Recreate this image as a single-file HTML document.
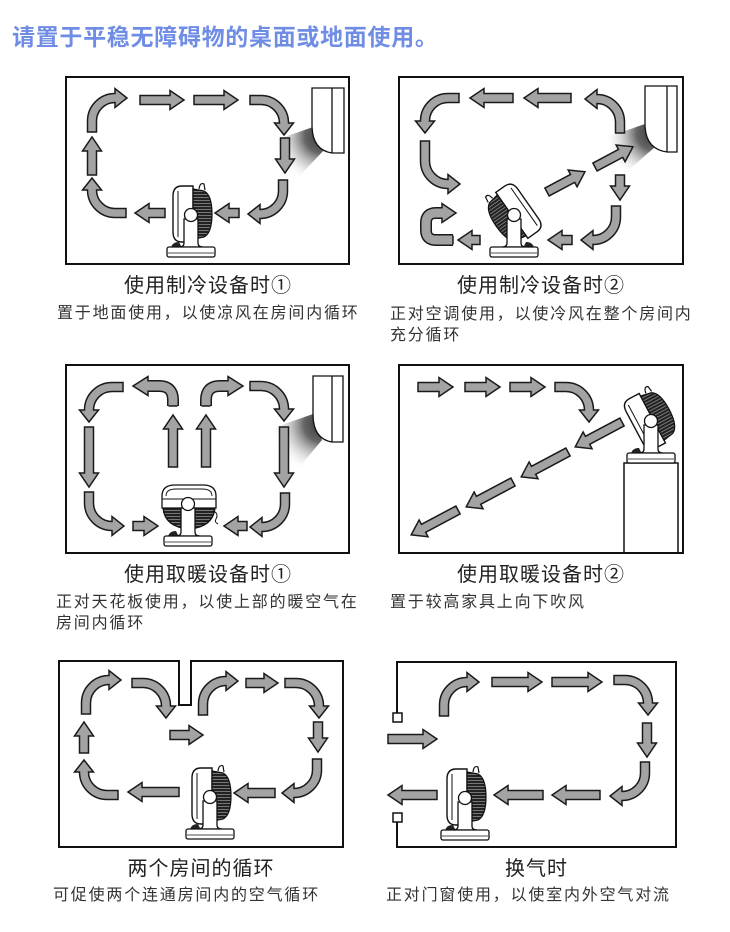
<!DOCTYPE html>
<html><head><meta charset="utf-8">
<style>
html,body{margin:0;padding:0;background:#fff;}
body{width:730px;height:932px;position:relative;overflow:hidden;font-family:"Liberation Sans","Noto Sans CJK SC",sans-serif;}
.t{position:absolute;font-weight:bold;font-size:23px;line-height:26px;letter-spacing:0.7px;color:#6f8de5;white-space:nowrap;}
.c{position:absolute;font-size:20px;line-height:24px;letter-spacing:1px;text-align:center;color:#222;white-space:nowrap;}
.s{position:absolute;font-size:16px;line-height:21px;letter-spacing:1.8px;color:#333;white-space:nowrap;}
svg{position:absolute;left:0;top:0;}
</style></head><body>
<svg width="730" height="932" viewBox="0 0 730 932">
<defs>
 <path id="ca" d="M0,-4.5 L11,-4.5 A27.5,27.5 0 0 1 38.5,23 L43.5,23 L34,35 L24.5,23 L29.5,23 A18.5,18.5 0 0 0 11,4.5 L0,4.5 Z"/>
 <path id="cal" d="M0,-4.5 L20,-4.5 A27.5,27.5 0 0 1 47.5,23 L52.5,23 L43,35 L33.5,23 L38.5,23 A18.5,18.5 0 0 0 20,4.5 L0,4.5 Z"/>
 <pattern id="grille" width="3" height="3" patternUnits="userSpaceOnUse"><rect width="3" height="3" fill="#222"/><rect width="3" height="1" fill="#777"/></pattern>
 <radialGradient id="g1" gradientUnits="userSpaceOnUse" cx="322" cy="136" r="50"><stop offset="0" stop-color="#333"/><stop offset="0.35" stop-color="#666"/><stop offset="1" stop-color="#fff" stop-opacity="0"/></radialGradient>
 <radialGradient id="g2" gradientUnits="userSpaceOnUse" cx="654" cy="133" r="50"><stop offset="0" stop-color="#333"/><stop offset="0.35" stop-color="#666"/><stop offset="1" stop-color="#fff" stop-opacity="0"/></radialGradient>
 <radialGradient id="g3" gradientUnits="userSpaceOnUse" cx="322" cy="424" r="52"><stop offset="0" stop-color="#333"/><stop offset="0.35" stop-color="#666"/><stop offset="1" stop-color="#fff" stop-opacity="0"/></radialGradient>
 <g id="fh">
  <path d="M2,-29 H-9 Q-18,-29 -18,-19 V17 Q-18,27 -9,27 H2 Z" fill="#fff" stroke="#111" stroke-width="1.4"/>
  <path d="M-13,-24 V22" fill="none" stroke="#111" stroke-width="1"/>
  <path d="M2,-26 L13,-24 Q21,-20 21,-1 Q21,18 13,22 L2,24 Z" fill="url(#grille)" stroke="#111" stroke-width="1.2"/>
  <path d="M8,-26 Q9,-33 13,-31 L14,-25" fill="none" stroke="#111" stroke-width="1.2"/>
 </g>
 <g id="fb">
  <path d="M-20,33 Q-19,27 -12,27 L-9,33 Z" fill="#222"/>
  <path d="M-7,4 V28 Q-7,32 -12,32 H12 Q7,32 7,28 V4 Z" fill="#fff" stroke="#111" stroke-width="1.3"/>
  <rect x="-24" y="32" width="48" height="10" rx="2" fill="#fff" stroke="#111" stroke-width="1.3"/>
  <path d="M-23,38 H23" stroke="#111" stroke-width="0.8"/>
  <circle r="6.5" fill="#fff" stroke="#111" stroke-width="1.3"/>
 </g>
</defs>

<!-- frames -->
<g fill="none" stroke="#111" stroke-width="2">
 <rect x="66" y="77" width="283" height="187"/>
 <rect x="399" y="77" width="284" height="187"/>
 <rect x="66" y="365" width="283" height="188"/>
 <rect x="399" y="365" width="284" height="188"/>
 <path d="M59,661 H179 V705 H191 V661 H343 V847 H59 Z"/>
 <path d="M397,713 V662 H676 V847 H397 V822"/>
</g>
<rect x="393" y="713" width="9" height="9" fill="#fff" stroke="#111" stroke-width="1.5"/>
<rect x="393" y="813" width="9" height="9" fill="#fff" stroke="#111" stroke-width="1.5"/>
<path d="M624,553 V463 H678 V553" fill="none" stroke="#111" stroke-width="1.5"/>

<!-- cones -->
<path d="M313,127 L273,141 Q281,166 294,182 L324,150 Z" fill="url(#g1)"/>
<path d="M645,124 L607,137 Q613,158 625,173 L655,147 Z" fill="url(#g2)"/>
<path d="M313,414 L273,428 Q283,452 297,470 L322,440 Z" fill="url(#g3)"/>

<!-- AC units -->
<g fill="#fff" stroke="#111" stroke-width="1.3">
 <path d="M312,88 H344 V153 H332 Q312,150 312,125 Z"/>
 <path d="M332,88 V153" fill="none"/>
 <path d="M645,86 H677 V152 H667 Q645,149 645,124 Z"/>
 <path d="M667,86 V152" fill="none"/>
 <path d="M313,376 H343 V442 H332 Q313,439 313,414 Z"/>
 <path d="M332,376 V442" fill="none"/>
</g>

<!-- arrows -->
<g fill="#a3a3a3" stroke="#1a1a1a" stroke-width="1.5" stroke-linejoin="miter">
 <!-- panel 1 -->
 <use href="#ca" transform="translate(92,132) rotate(-90)"/>
 <path transform="translate(140,100)" d="M0,-4.5H30V-9.5L44,0L30,9.5V4.5H0Z"/>
 <path transform="translate(194,100)" d="M0,-4.5H30V-9.5L44,0L30,9.5V4.5H0Z"/>
 <use href="#ca" transform="translate(250,100)"/>
 <path transform="translate(285,138) rotate(90)" d="M0,-4.5H21V-9.5L35,0L21,9.5V4.5H0Z"/>
 <use href="#ca" transform="translate(283,180) rotate(90)"/>
 <path transform="translate(239,213) rotate(180)" d="M0,-4.5H10V-9.5L24,0L10,9.5V4.5H0Z"/>
 <path transform="translate(165,213) rotate(180)" d="M0,-4.5H16V-9.5L30,0L16,9.5V4.5H0Z"/>
 <use href="#ca" transform="translate(126,213) rotate(180)"/>
 <path transform="translate(92,175) rotate(-90)" d="M0,-4.5H24V-9.5L38,0L24,9.5V4.5H0Z"/>

 <!-- panel 2 -->
 <use href="#ca" transform="translate(620,133) rotate(-90) scale(1,-1)"/>
 <path transform="translate(571,98) rotate(180)" d="M0,-4.5H33V-9.5L47,0L33,9.5V4.5H0Z"/>
 <path transform="translate(513,98) rotate(180)" d="M0,-4.5H29V-9.5L43,0L29,9.5V4.5H0Z"/>
 <use href="#ca" transform="translate(459,98) rotate(180) scale(1,-1)"/>
 <use href="#cal" transform="translate(425,141) rotate(90) scale(1,-1)"/>
 <path transform="translate(480,240) rotate(180)" d="M0,-4.5H8V-9.5L22,0L8,9.5V4.5H0Z"/>
 <path transform="translate(547,192) rotate(-28)" d="M0,-4.5H29V-9.5L43,0L29,9.5V4.5H0Z"/>
 <path transform="translate(595,167) rotate(-28)" d="M0,-4.5H29V-9.5L43,0L29,9.5V4.5H0Z"/>
 <path transform="translate(620,175) rotate(90)" d="M0,-4.5H11V-9.5L25,0L11,9.5V4.5H0Z"/>
 <use href="#ca" transform="translate(616,206) rotate(90)"/>
 <path transform="translate(572,240) rotate(180)" d="M0,-4.5H10V-9.5L24,0L10,9.5V4.5H0Z"/>

 <!-- panel 3 -->
 <use href="#ca" transform="translate(123,387) rotate(180) scale(1,-1)"/>
 <path transform="translate(89,427) rotate(90)" d="M0,-4.5H46V-9.5L60,0L46,9.5V4.5H0Z"/>
 <use href="#ca" transform="translate(89,492) rotate(90) scale(1,-1)"/>
 <path transform="translate(133,526)" d="M0,-4.5H11V-9.5L25,0L11,9.5V4.5H0Z"/>
 <path transform="translate(247,526) rotate(180)" d="M0,-4.5H9V-9.5L23,0L9,9.5V4.5H0Z"/>
 <use href="#ca" transform="translate(285,493) rotate(90)"/>
 <path transform="translate(284,427) rotate(90)" d="M0,-4.5H46V-9.5L60,0L46,9.5V4.5H0Z"/>
 <use href="#ca" transform="translate(250,386)"/>
 <path transform="translate(173,467) rotate(-90)" d="M0,-4.5H38V-9.5L52,0L38,9.5V4.5H0Z"/>
 <path transform="translate(206,467) rotate(-90)" d="M0,-4.5H38V-9.5L52,0L38,9.5V4.5H0Z"/>

 <!-- panel 4 -->
 <path transform="translate(418,387)" d="M0,-4.5H21V-9.5L35,0L21,9.5V4.5H0Z"/>
 <path transform="translate(465,387)" d="M0,-4.5H21V-9.5L35,0L21,9.5V4.5H0Z"/>
 <path transform="translate(510,387)" d="M0,-4.5H21V-9.5L35,0L21,9.5V4.5H0Z"/>
 <use href="#ca" transform="translate(555,387)"/>
 <path transform="translate(622,422) rotate(152)" d="M0,-4.5H39V-9.5L53,0L39,9.5V4.5H0Z"/>
 <path transform="translate(568,452) rotate(152)" d="M0,-4.5H39V-9.5L53,0L39,9.5V4.5H0Z"/>
 <path transform="translate(513,482) rotate(152)" d="M0,-4.5H39V-9.5L53,0L39,9.5V4.5H0Z"/>
 <path transform="translate(458,510) rotate(152)" d="M0,-4.5H39V-9.5L53,0L39,9.5V4.5H0Z"/>

 <!-- panel 5 -->
 <use href="#ca" transform="translate(86,714) rotate(-90)"/>
 <use href="#ca" transform="translate(132,683)"/>
 <use href="#ca" transform="translate(203,715) rotate(-90)"/>
 <path transform="translate(246,683)" d="M0,-4.5H18V-9.5L32,0L18,9.5V4.5H0Z"/>
 <use href="#ca" transform="translate(285,683)"/>
 <path transform="translate(318,722) rotate(90)" d="M0,-4.5H16V-9.5L30,0L16,9.5V4.5H0Z"/>
 <use href="#ca" transform="translate(317,759) rotate(90)"/>
 <path transform="translate(275,793) rotate(180)" d="M0,-4.5H27V-9.5L41,0L27,9.5V4.5H0Z"/>
 <path transform="translate(179,792) rotate(180)" d="M0,-4.5H37V-9.5L51,0L37,9.5V4.5H0Z"/>
 <use href="#ca" transform="translate(118,795) rotate(180)"/>
 <path transform="translate(84,753) rotate(-90)" d="M0,-4.5H17V-9.5L31,0L17,9.5V4.5H0Z"/>
 <path transform="translate(170,735)" d="M0,-4.5H19V-9.5L33,0L19,9.5V4.5H0Z"/>

 <!-- panel 6 -->
 <path transform="translate(388,739)" d="M0,-4.5H35V-9.5L49,0L35,9.5V4.5H0Z"/>
 <use href="#ca" transform="translate(444,716) rotate(-90)"/>
 <path transform="translate(492,682)" d="M0,-4.5H36V-9.5L50,0L36,9.5V4.5H0Z"/>
 <path transform="translate(552,682)" d="M0,-4.5H36V-9.5L50,0L36,9.5V4.5H0Z"/>
 <use href="#ca" transform="translate(614,680)"/>
 <path transform="translate(647,723) rotate(90)" d="M0,-4.5H20V-9.5L34,0L20,9.5V4.5H0Z"/>
 <use href="#ca" transform="translate(645,762) rotate(90)"/>
 <path transform="translate(600,795) rotate(180)" d="M0,-4.5H34V-9.5L48,0L34,9.5V4.5H0Z"/>
 <path transform="translate(543,795) rotate(180)" d="M0,-4.5H35V-9.5L49,0L35,9.5V4.5H0Z"/>
 <path transform="translate(437,795) rotate(180)" d="M0,-4.5H35V-9.5L49,0L35,9.5V4.5H0Z"/>
</g>

<!-- custom stroked arrows -->
<g fill="none" stroke-linejoin="round">
 <path d="M453,240 H436 Q426,240 426,230 V223 Q426,213 436,213 H443" stroke="#1a1a1a" stroke-width="12"/>
 <path d="M453,240 H436 Q426,240 426,230 V223 Q426,213 436,213 H443" stroke="#a3a3a3" stroke-width="9"/>
 <path d="M173,406 V400 Q173,386 159,386 H147" stroke="#1a1a1a" stroke-width="12"/>
 <path d="M173,406 V400 Q173,386 159,386 H147" stroke="#a3a3a3" stroke-width="9"/>
 <path d="M206,406 V400 Q206,386 220,386 H229" stroke="#1a1a1a" stroke-width="12"/>
 <path d="M206,406 V400 Q206,386 220,386 H229" stroke="#a3a3a3" stroke-width="9"/>
</g>
<g fill="#a3a3a3" stroke="#1a1a1a" stroke-width="1.5">
 <path d="M453,235.5 V244.5" fill="none"/>
 <path d="M442,208.5 V203.5 L456,213 L442,222.5 V217.5"/>
 <path d="M168.5,406 H177.5" fill="none"/>
 <path d="M148,381.5 V376.5 L133,386 L148,395.5 V390.5"/>
 <path d="M201.5,406 H210.5" fill="none"/>
 <path d="M228,381.5 V376.5 L243,386 L228,395.5 V390.5"/>
</g>

<!-- fans -->
<use href="#fh" transform="translate(191,215)"/>
<use href="#fb" transform="translate(191,215)"/>

<use href="#fh" transform="translate(514,215) rotate(-35) scale(-1,1)"/>
<use href="#fb" transform="translate(514,215) scale(-1,1)"/>

<use href="#fh" transform="translate(651,420) rotate(-28)"/>
<use href="#fb" transform="translate(651,421)"/>

<use href="#fh" transform="translate(210,797)"/>
<use href="#fb" transform="translate(210,797)"/>

<use href="#fh" transform="translate(465,798)"/>
<use href="#fb" transform="translate(465,798)"/>

<!-- front fan panel 3 -->
<g stroke="#111" stroke-width="1.3">
 <path d="M163,508 H215 Q213,527 189,529 Q165,527 163,508 Z" fill="url(#grille)"/>
 <path d="M162,508 V496 Q162,485 175,485 H203 Q216,485 216,496 V508 Z" fill="#fff"/>
 <path d="M166,496 Q166,489 176,489 H202 Q212,489 212,496" fill="none" stroke-width="0.9"/>
 <path d="M162,499 H216" fill="none" stroke-width="0.9"/>
 <path d="M213,511 Q219,513 216,519 Q214,522 218,524" fill="none" stroke-width="1"/>
</g>
<use href="#fb" transform="translate(188,504)"/>
</svg>

<div class="t" style="left:12px;top:24px">请置于平稳无障碍物的桌面或地面使用。</div>

<div class="c" style="left:66px;width:284px;top:274px">使用制冷设备时①</div>
<div class="c" style="left:399px;width:284px;top:274px">使用制冷设备时②</div>
<div class="s" style="left:57px;top:303px">置于地面使用，以使凉风在房间内循环</div>
<div class="s" style="left:390px;top:304px">正对空调使用，以使冷风在整个房间内<br>充分循环</div>

<div class="c" style="left:66px;width:284px;top:563px">使用取暖设备时①</div>
<div class="c" style="left:399px;width:284px;top:563px">使用取暖设备时②</div>
<div class="s" style="left:56px;top:592px">正对天花板使用，以使上部的暖空气在<br>房间内循环</div>
<div class="s" style="left:390px;top:592px">置于较高家具上向下吹风</div>

<div class="c" style="left:59px;width:284px;top:857px">两个房间的循环</div>
<div class="c" style="left:397px;width:279px;top:857px">换气时</div>
<div class="s" style="left:53px;top:885px">可促使两个连通房间内的空气循环</div>
<div class="s" style="left:386px;top:885px">正对门窗使用，以使室内外空气对流</div>
</body></html>
